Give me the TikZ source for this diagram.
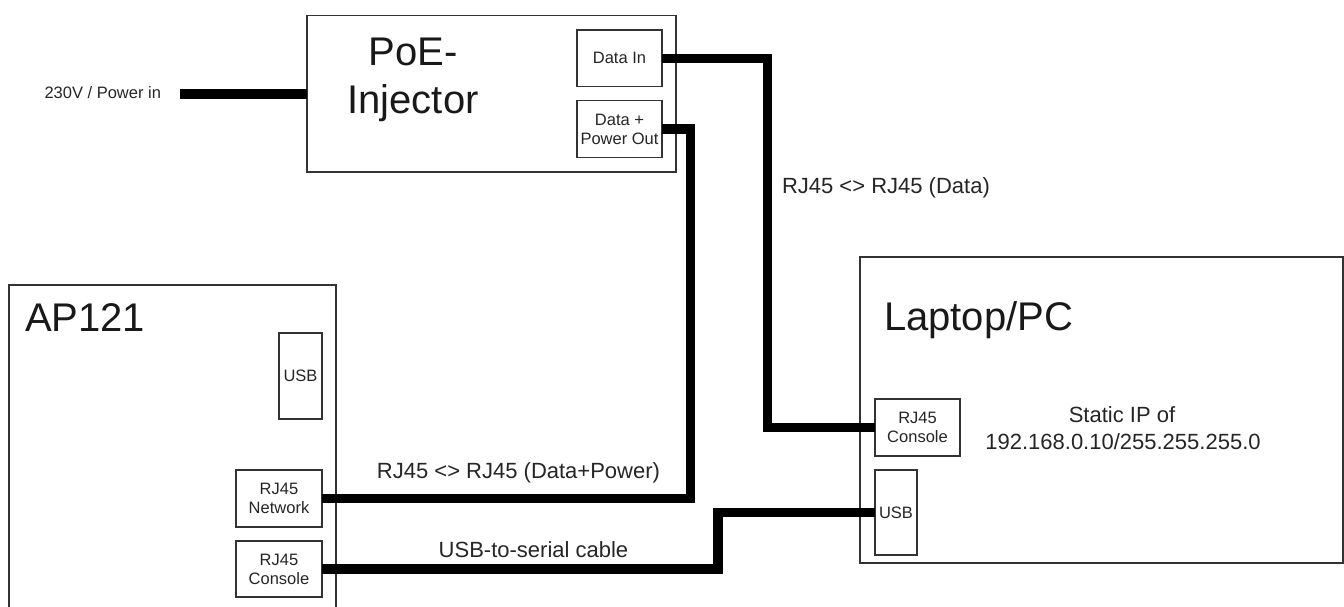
\documentclass[tikz,border=0pt]{standalone}
\usepackage{fontspec}
\setmainfont{Liberation Sans}
\begin{document}
\begin{tikzpicture}[x=1pt,y=-1pt,
  box/.style={draw=black!80, line width=1.3, fill=white, inner sep=0, outer sep=0, anchor=north west},
  port/.style={box, font=\fontsize{16.5}{19}\selectfont, align=center, text=black!85},
  cable/.style={line width=9.5, line join=miter, draw=black},
  big/.style={font=\fontsize{40}{48}\selectfont, text=black!90, inner sep=0, outer sep=0},
  mid/.style={font=\fontsize{22}{27}\selectfont, text=black!85, inner sep=0, outer sep=0},
  small/.style={font=\fontsize{16.5}{19}\selectfont, text=black!85, inner sep=0, outer sep=0}]
\useasboundingbox (0,0) rectangle (1344,606);
\fill[white] (0,0) rectangle (1344,606);
\clip (0,0) rectangle (1344,606);

% main boxes
\node[box, minimum width=369, minimum height=156.5] (poe) at (307,15.5) {};
\node[box, minimum width=327, minimum height=340] (ap) at (9,285) {};
\node[box, minimum width=483, minimum height=306] (pc) at (860,257) {};

% ports
\node[port, minimum width=85, minimum height=56.7] (datain) at (577,30) {Data In};
\node[port, minimum width=85, minimum height=56.6] (pout) at (577,100.7) {Data +\\Power Out};
\node[port, minimum width=43, minimum height=86] (ausb) at (279,333) {USB};
\node[port, minimum width=86, minimum height=57] (net) at (236,470) {RJ45\\Network};
\node[port, minimum width=86, minimum height=56] (acon) at (236,541) {RJ45\\Console};
\node[port, minimum width=85, minimum height=57] (lcon) at (875,399) {RJ45\\Console};
\node[port, minimum width=42, minimum height=85] (lusb) at (875,470) {USB};

% bend coordinates
\coordinate (pin) at ([xshift=-127]poe.west);
\coordinate (c1) at (767.5,0);
\coordinate (c2) at (690.5,0);
\coordinate (c3) at (718,0);

% cables
\draw[cable] (pin) -- (poe.west);
\draw[cable] (datain.east) -| (c1 |- lcon.west) -- (lcon.west);
\draw[cable] (pout.east) -| (c2 |- net.east) -- (net.east);
\draw[cable] (acon.east) -| (c3 |- lusb.west) -- (lusb.west);

% titles
\node[big, anchor=base] (poet1) at (413,65) {PoE-};
\node[big, anchor=base] (poet2) at (413,113) {Injector};
\node[big, anchor=base west] (aptitle) at (25,331) {AP121};
\node[big, anchor=base west] (pctitle) at (884,330) {Laptop/PC};

% labels
\node[small, anchor=east] (powerin) at (161,93) {230V / Power in};
\node[mid, anchor=base west] (ldata) at (782,193) {RJ45 <> RJ45 (Data)};
\node[mid, anchor=base] (ldp) at (518.5,478) {RJ45 <> RJ45 (Data+Power)};
\node[mid, anchor=base] (lusbser) at (533.5,557) {USB-to-serial cable};
\node[mid, anchor=base] (ip1) at (1122,422) {Static IP of};
\node[mid, anchor=base] (ip2) at (1123,449) {192.168.0.10/255.255.255.0};
\end{tikzpicture}
\end{document}
